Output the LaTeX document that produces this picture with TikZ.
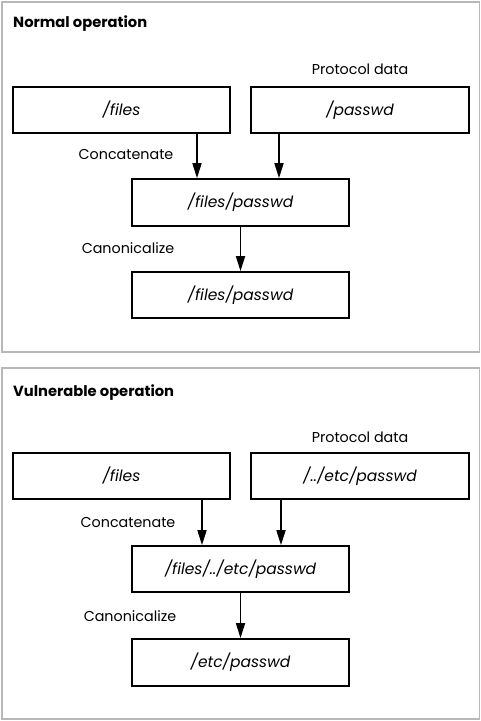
\documentclass[tikz,border=0pt]{standalone}
\usepackage{fontspec}
\setmainfont{Poppins}
\usetikzlibrary{arrows.meta}
\begin{document}
\begin{tikzpicture}[x=1pt,y=-1pt,
  frame/.style={draw=black!28,line width=1.5pt},
  box/.style={draw,line width=1.7pt,minimum height=46pt,inner sep=0pt,font=\fontsize{15.5}{18}\selectfont\itshape},
  lbl/.style={font=\fontsize{14.3}{17}\selectfont,inner sep=0pt},
  ttl/.style={font=\fontsize{14.7}{17}\selectfont\bfseries,inner sep=0pt,anchor=west},
  arr/.style={line width=1.7pt,-{Triangle[length=15pt,width=9pt]}}]
\useasboundingbox (0,0) rectangle (481,721);
% panels
\draw[frame] (2,2) rectangle (479.5,352);
\draw[frame] (2,368) rectangle (479.5,719);
% ---- normal operation
\node[ttl] (t1) at (13,24) {Normal operation};
\node[lbl] (pd1) at (360,69) {Protocol data};
\node[box,minimum width=217pt] (f1) at (121.5,110) {/files};
\node[box,minimum width=218pt] (p1) at (360,110) {/passwd};
\node[box,minimum width=217pt,minimum height=47pt] (c1) at (240.5,202.5) {/files/passwd};
\node[box,minimum width=217pt] (r1) at (240.5,295) {/files/passwd};
\node[lbl] (cc1) at (126,155) {Concatenate};
\node[lbl] (cn1) at (128,248) {Canonicalize};
\coordinate (xa1) at (197,0);
\coordinate (xb1) at (279,0);
\draw[arr] (xa1 |- f1.south) -- (xa1 |- c1.north);
\draw[arr] (xb1 |- p1.south) -- (xb1 |- c1.north);
\draw[arr] (c1.south) -- (r1.north);
% ---- vulnerable operation
\node[ttl] (t2) at (13,393) {Vulnerable operation};
\node[lbl] (pd2) at (360,437) {Protocol data};
\node[box,minimum width=217pt] (f2) at (121.5,476) {/files};
\node[box,minimum width=218pt] (p2) at (360,476) {/../etc/passwd};
\node[box,minimum width=217pt] (c2) at (240.5,569) {/files/../etc/passwd};
\node[box,minimum width=217pt,minimum height=47pt] (r2) at (240.5,662.5) {/etc/passwd};
\node[lbl] (cc2) at (128,523) {Concatenate};
\node[lbl] (cn2) at (130,616) {Canonicalize};
\coordinate (xa2) at (202,0);
\coordinate (xb2) at (281,0);
\draw[arr] (xa2 |- f2.south) -- (xa2 |- c2.north);
\draw[arr] (xb2 |- p2.south) -- (xb2 |- c2.north);
\draw[arr] (c2.south) -- (r2.north);
\end{tikzpicture}
\end{document}
